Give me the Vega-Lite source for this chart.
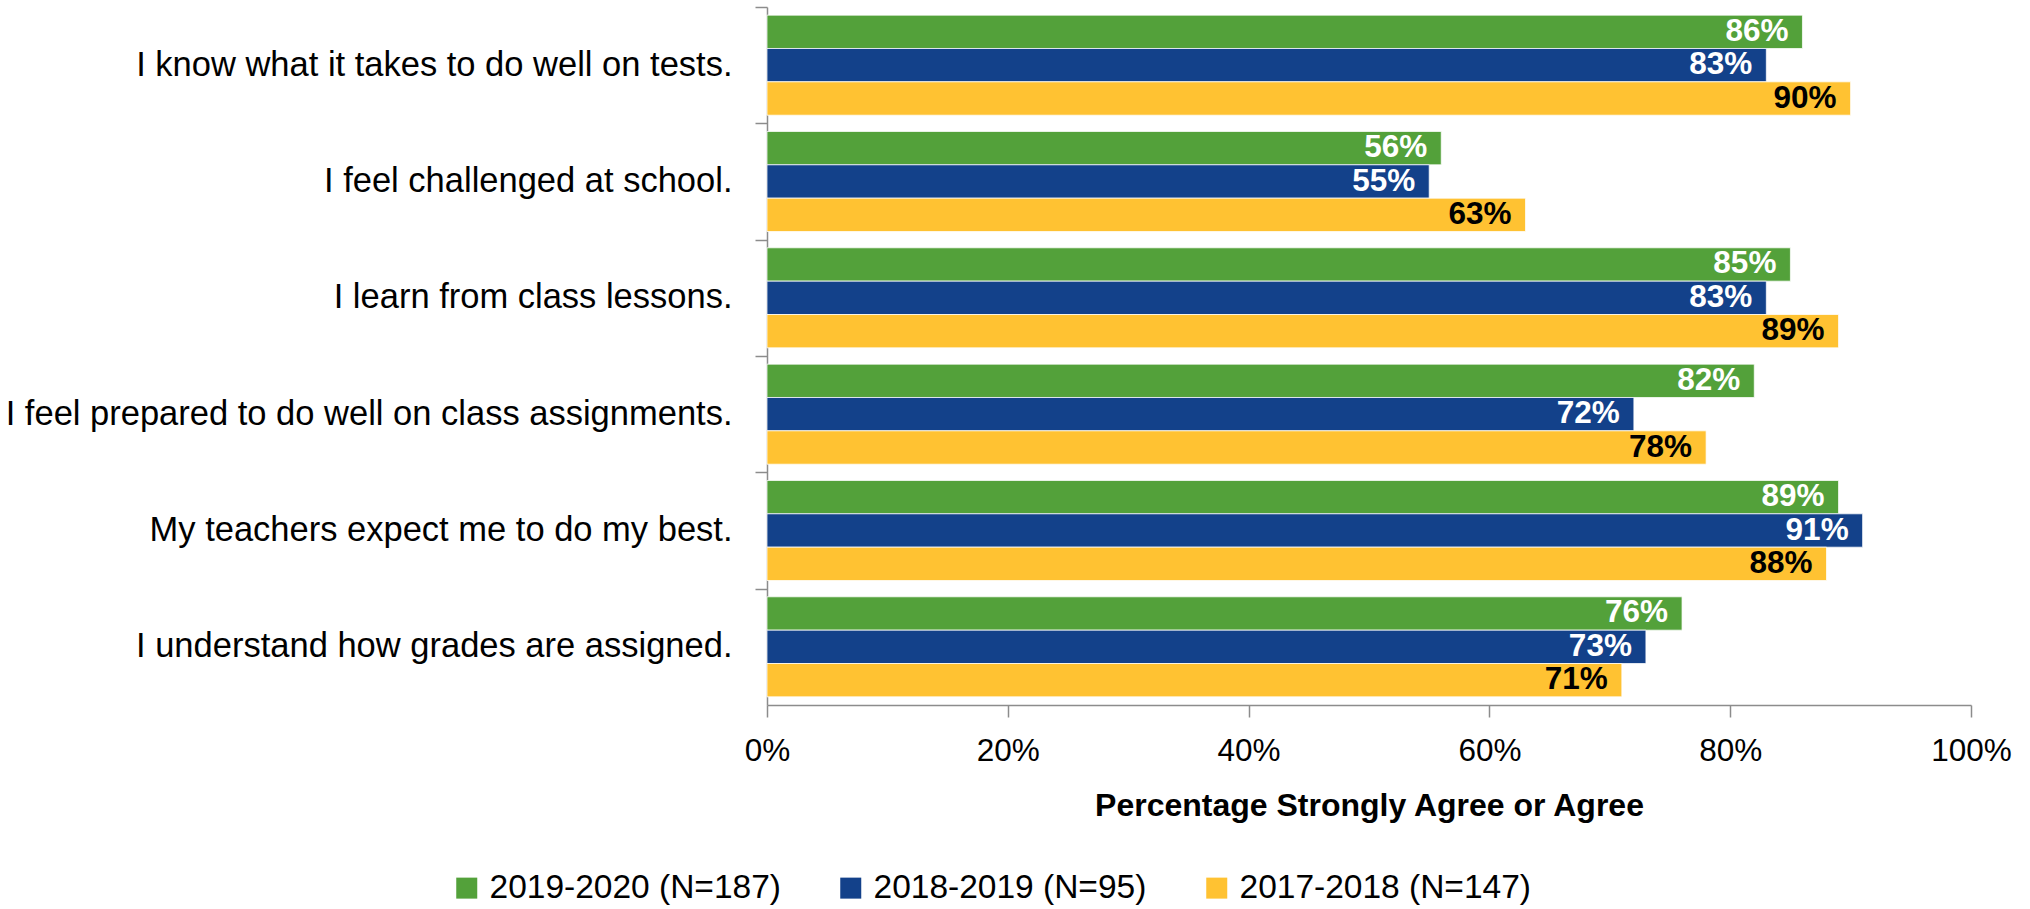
{
  "$schema": "https://vega.github.io/schema/vega-lite/v6.json",
  "width": 1204,
  "height": 698,
  "autosize": "none",
  "padding": {"left": 767, "top": 7, "right": 59, "bottom": 204},
  "background": "white",
  "config": {"view": {"stroke": null}, "font": "Liberation Sans"},
  "data": {"values": [
    {"item": "I know what it takes to do well on tests.", "year": "2019-2020 (N=187)", "pct": 0.86},
    {"item": "I know what it takes to do well on tests.", "year": "2018-2019 (N=95)", "pct": 0.83},
    {"item": "I know what it takes to do well on tests.", "year": "2017-2018 (N=147)", "pct": 0.90},
    {"item": "I feel challenged at school.", "year": "2019-2020 (N=187)", "pct": 0.56},
    {"item": "I feel challenged at school.", "year": "2018-2019 (N=95)", "pct": 0.55},
    {"item": "I feel challenged at school.", "year": "2017-2018 (N=147)", "pct": 0.63},
    {"item": "I learn from class lessons.", "year": "2019-2020 (N=187)", "pct": 0.85},
    {"item": "I learn from class lessons.", "year": "2018-2019 (N=95)", "pct": 0.83},
    {"item": "I learn from class lessons.", "year": "2017-2018 (N=147)", "pct": 0.89},
    {"item": "I feel prepared to do well on class assignments.", "year": "2019-2020 (N=187)", "pct": 0.82},
    {"item": "I feel prepared to do well on class assignments.", "year": "2018-2019 (N=95)", "pct": 0.72},
    {"item": "I feel prepared to do well on class assignments.", "year": "2017-2018 (N=147)", "pct": 0.78},
    {"item": "My teachers expect me to do my best.", "year": "2019-2020 (N=187)", "pct": 0.89},
    {"item": "My teachers expect me to do my best.", "year": "2018-2019 (N=95)", "pct": 0.91},
    {"item": "My teachers expect me to do my best.", "year": "2017-2018 (N=147)", "pct": 0.88},
    {"item": "I understand how grades are assigned.", "year": "2019-2020 (N=187)", "pct": 0.76},
    {"item": "I understand how grades are assigned.", "year": "2018-2019 (N=95)", "pct": 0.73},
    {"item": "I understand how grades are assigned.", "year": "2017-2018 (N=147)", "pct": 0.71}
  ]},
  "encoding": {
    "y": {
      "field": "item", "type": "nominal",
      "sort": ["I know what it takes to do well on tests.", "I feel challenged at school.", "I learn from class lessons.", "I feel prepared to do well on class assignments.", "My teachers expect me to do my best.", "I understand how grades are assigned."],
      "scale": {"paddingInner": 0.14, "paddingOuter": 0.07},
      "axis": {
        "title": null, "labelFontSize": 34.5, "labelColor": "black", "labelLimit": 900,
        "tickSize": 12, "tickOffset": -58.17, "labelOffset": 58.17, "labelPadding": 23,
        "domainColor": "#8c8c8c", "tickColor": "#8c8c8c", "domainWidth": 1.5, "tickWidth": 1.5,
        "grid": false
      }
    },
    "yOffset": {
      "field": "year", "type": "nominal",
      "sort": ["2019-2020 (N=187)", "2018-2019 (N=95)", "2017-2018 (N=147)"],
      "scale": {"paddingInner": 0, "paddingOuter": 0}
    },
    "x": {
      "field": "pct", "type": "quantitative",
      "scale": {"domain": [0, 1]},
      "axis": {
        "values": [0, 0.2, 0.4, 0.6, 0.8, 1], "format": ".0%",
        "title": "Percentage Strongly Agree or Agree", "titleFontSize": 32, "titleFontWeight": "bold",
        "titleColor": "black", "titleY": 100, "titleBaseline": "middle",
        "labelFontSize": 31.5, "labelColor": "black", "labelBaseline": "middle", "labelPadding": 34,
        "labelFlush": false, "tickSize": 12, "grid": false,
        "domainColor": "#8c8c8c", "tickColor": "#8c8c8c", "domainWidth": 1.5, "tickWidth": 1.5
      }
    }
  },
  "layer": [
    {
      "mark": {"type": "bar", "stroke": "white", "strokeWidth": 0.75},
      "encoding": {
        "color": {
          "field": "year", "type": "nominal",
          "scale": {"domain": ["2019-2020 (N=187)", "2018-2019 (N=95)", "2017-2018 (N=147)"], "range": ["#53A13A", "#13418A", "#FFC232"]},
          "legend": {
            "title": null, "orient": "none", "direction": "horizontal",
            "legendX": -317, "legendY": 864,
            "symbolType": "square", "symbolSize": 441, "symbolStrokeWidth": 0,
            "labelFontSize": 33.5, "labelColor": "black", "labelOffset": 6,
            "columnPadding": 53, "labelLimit": 600
          }
        }
      }
    },
    {
      "mark": {"type": "text", "align": "right", "baseline": "middle", "dx": -14, "fontWeight": "bold", "fontSize": 31.5},
      "encoding": {
        "text": {"field": "pct", "format": ".0%"},
        "color": {"condition": {"test": "datum.year === '2017-2018 (N=147)'", "value": "black"}, "value": "white"}
      }
    }
  ]
}
